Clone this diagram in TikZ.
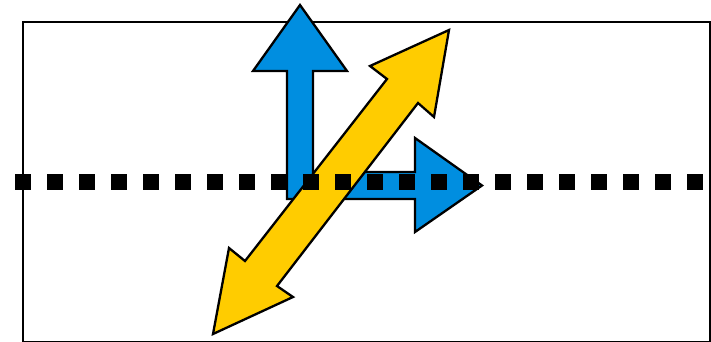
\documentclass[tikz,border=0pt]{standalone}
\definecolor{arrowblue}{RGB}{0,142,224}
\definecolor{arrowyellow}{RGB}{255,204,0}
\tikzset{
  shapeline/.style={draw=black, line width=2.3pt, line join=miter},
  framebox/.style={draw=black, line width=2pt},
  dotline/.style={line width=16pt, dash pattern=on 16pt off 16pt, line cap=butt}
}
\begin{document}
\begin{tikzpicture}[x=1pt,y=-1pt]
\useasboundingbox (0,0) rectangle (711,341);
\fill[white] (0,0) rectangle (711,341);
\draw[framebox] (22.5,22) rectangle (710,342);
% blue L-shaped arrow
\filldraw[shapeline, fill=arrowblue]
  (287,199) -- (287,71) -- (253,71) -- (300,5) -- (347,71) -- (313,71)
  -- (313,172) -- (415,172) -- (415,138) -- (482,185.5) -- (415,232)
  -- (415,199) -- cycle;
% yellow double arrow
\filldraw[shapeline, fill=arrowyellow]
  (449,30) -- (434,117) -- (418,103) -- (277,286) -- (293,297)
  -- (213,334) -- (229,248) -- (245,261) -- (387,79) -- (370,66) -- cycle;
% dotted line
\coordinate (dl) at (15,182);
\coordinate (dr) at (703,182);
\draw[dotline] (dl) -- (dr);
\end{tikzpicture}
\end{document}
